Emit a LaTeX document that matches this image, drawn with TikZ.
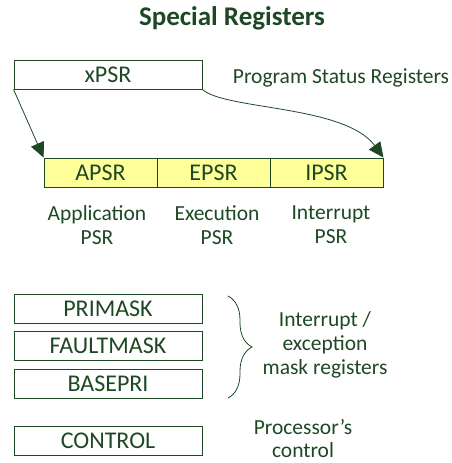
\documentclass[tikz,border=0pt]{standalone}
\usepackage{fontspec}
\setmainfont{Carlito}
\usetikzlibrary{arrows.meta,decorations.pathreplacing}
\definecolor{regtext}{RGB}{30,72,36}
\definecolor{regfill}{RGB}{255,255,153}
\tikzset{
  reg/.style={draw=regtext, line width=0.9pt, minimum width=188pt, minimum height=29pt,
    inner sep=0pt, text=regtext, font=\fontsize{24}{26}\selectfont},
  psr/.style={reg, fill=regfill, minimum width=113pt},
  note/.style={text=regtext, align=center, inner sep=0pt, font=\fontsize{21.5}{24}\selectfont},
  flow/.style={draw=regtext, line width=0.8pt, -{Triangle[length=15pt,width=14pt]}}
}

\begin{document}
\begin{tikzpicture}[x=1pt,y=1pt]
\useasboundingbox (0,0) rectangle (451,-463);
\node[text=regtext, font=\fontsize{27}{30}\selectfont\bfseries] (title) at (232,-18) {Special Registers};
% program status registers
\node[reg] (xpsr) at (108,-74.5) {xPSR};
\node[note] (psrnote) at (341,-78) {Program Status Registers};
\node[psr] (apsr) at (100.5,-172.5) {APSR};
\node[psr] (epsr) at (213.5,-172.5) {EPSR};
\node[psr] (ipsr) at (326.5,-172.5) {IPSR};
\node[note] (apsrnote) at (97,-225) {Application\\PSR};
\node[note] (epsrnote) at (217,-225) {Execution\\PSR};
\node[note] (ipsrnote) at (331,-225) {Interrupt\\PSR};
\draw[flow] (xpsr.south west) -- (apsr.north west);
\draw[flow] (xpsr.south east) .. controls (225,-110) and (345,-105) .. (ipsr.north east);
% mask registers
\node[reg] (primask) at (108,-308.5) {PRIMASK};
\node[reg] (faultmask) at (108,-346) {FAULTMASK};
\node[reg] (basepri) at (108,-384) {BASEPRI};
\draw[regtext, line width=0.8pt, decorate, decoration={brace, amplitude=24pt}]
  (228,-296) -- (228,-398);
\node[note] (masknote) at (325,-345) {Interrupt /\\exception\\mask registers};
% control
\node[reg] (control) at (108,-440.5) {CONTROL};
\node[note, font=\fontsize{21.5}{23}\selectfont] (ctrlnote) at (303,-438) {Processor’s\\control};
\end{tikzpicture}
\end{document}
